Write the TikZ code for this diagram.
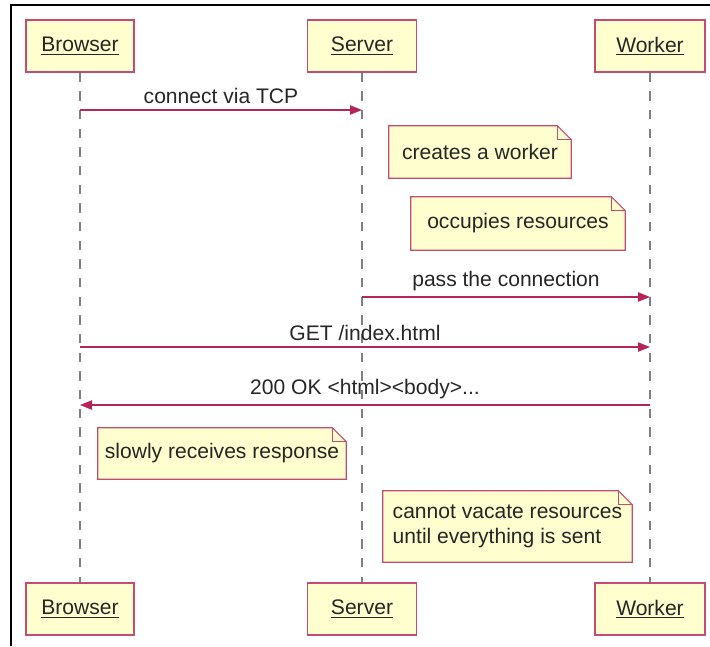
\documentclass[tikz,border=0pt]{standalone}
\usepackage{fontspec}
\setmainfont{Liberation Sans}
\usetikzlibrary{arrows.meta,backgrounds}
\definecolor{umlred}{HTML}{A80036}
\definecolor{umlfill}{HTML}{FEFECE}
\tikzstyle{actor} = [draw=umlred!70, fill=umlfill, line width=0.8pt,
    minimum height=39pt, inner sep=0pt, text=black!85]
\tikzstyle{note} = [minimum height=39pt, inner sep=0pt, text=black!85]
\tikzstyle{notedge} = [draw=umlred!70, fill=umlfill, line width=0.8pt]
\tikzstyle{lifeline} = [draw=black!50, line width=0.8pt, dash pattern=on 7pt off 7pt]
\tikzstyle{msg} = [draw=umlred!85, line width=0.8pt, -{Triangle[length=9pt,width=7pt]}]
\tikzstyle{msglabel} = [above=4pt, inner sep=0pt, midway, text=black!85]
\newcommand\dogear[1]{%
  \begin{pgfonlayer}{background}
  \filldraw[notedge] (#1.north west) -- ([xshift=-10.5pt]#1.north east)
      -- ([yshift=-10.5pt]#1.north east) -- (#1.south east) -- (#1.south west) -- cycle;
  \draw[notedge, fill=none] ([xshift=-10.5pt]#1.north east) |- ([yshift=-10.5pt]#1.north east);
  \end{pgfonlayer}}

\begin{document}
\begin{tikzpicture}[x=0.75pt, y=-0.75pt, font=\fontsize{15.8}{19}\selectfont]
    \useasboundingbox (0,0) rectangle (710,646);
    \draw[line width=1.2pt] (11,646) -- (11,5) -- (710,5);

    % participants
    \node[actor, minimum width=81pt] (Bt) at (80,46) {\underline{Browser}};
    \node[actor, minimum width=81.75pt] (St) at (362,46) {\underline{Server}};
    \node[actor, minimum width=82.5pt] (Wt) at (650,46) {\underline{Worker}};
    \node[actor, minimum width=81pt] (Bb) at (80,609) {\underline{Browser}};
    \node[actor, minimum width=81.75pt] (Sb) at (362,609) {\underline{Server}};
    \node[actor, minimum width=82.5pt] (Wb) at (650,609) {\underline{Worker}};

    \draw[lifeline] (Bt) -- (Bb);
    \draw[lifeline] (St) -- (Sb);
    \draw[lifeline] (Wt) -- (Wb);

    % message heights
    \coordinate (m1) at (0,110);
    \coordinate (m2) at (0,297);
    \coordinate (m3) at (0,347);
    \coordinate (m4) at (0,405);

    \draw[msg] (Bt |- m1) -- (St |- m1) node[msglabel] {connect via TCP};
    \draw[msg] (St |- m2) -- (Wt |- m2) node[msglabel] {pass the connection};
    \draw[msg] (Bt |- m3) -- (Wt |- m3) node[msglabel] {GET /index.html};
    \draw[msg] (Wt |- m4) -- (Bt |- m4) node[msglabel] {200 OK <html><body>...};

    % notes
    \node[note, minimum width=136.5pt] (n1) at (480,152) {creates a worker};
    \dogear{n1}
    \node[note, minimum width=160.5pt, minimum height=39.75pt] (n2) at (518,223.5) {occupies resources};
    \dogear{n2}
    \node[note, minimum width=186pt, minimum height=38.25pt] (n3) at (222,453.5) {slowly receives response};
    \dogear{n3}
    \node[note, minimum width=186.75pt, minimum height=53.25pt, align=left] (n4) at (507.5,526.5)
        {cannot vacate resources\\until everything is sent};
    \dogear{n4}
\end{tikzpicture}
\end{document}
